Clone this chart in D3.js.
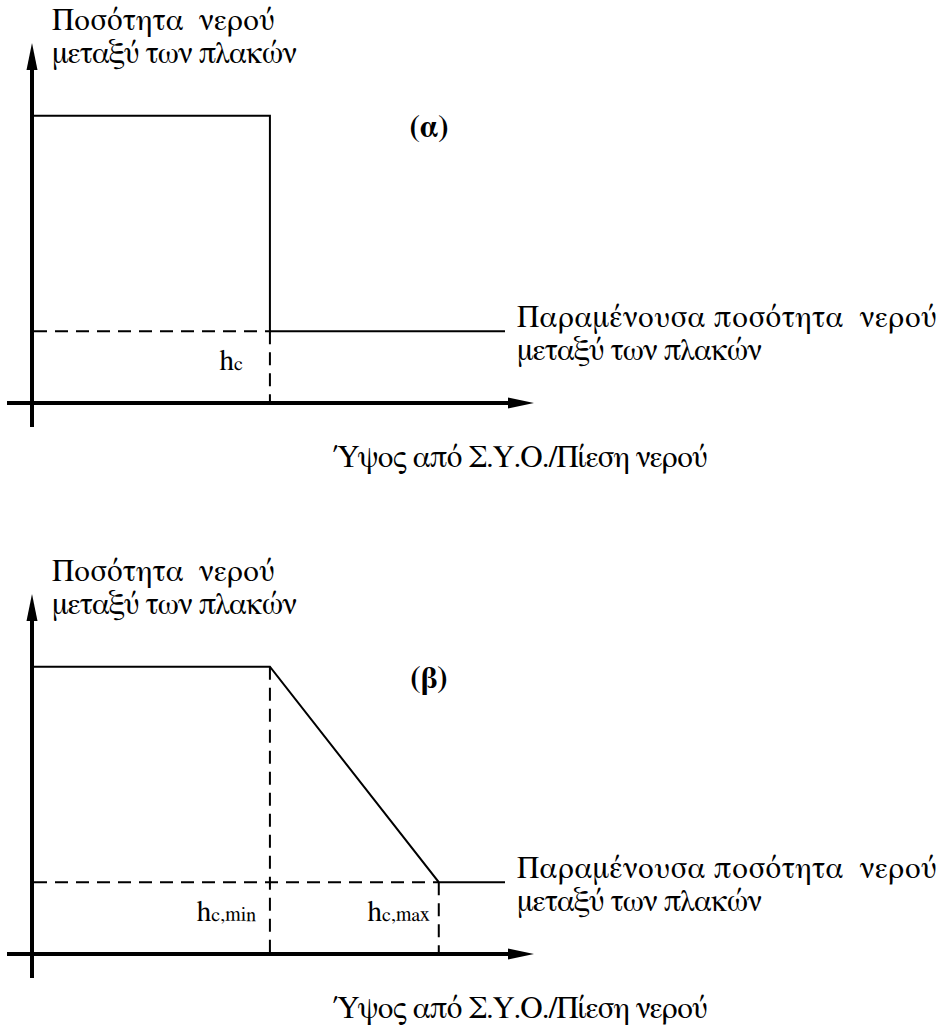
<!DOCTYPE html>
<html>
<head>
<meta charset="utf-8">
<script src="https://cdn.jsdelivr.net/npm/d3@7"></script>
<style>
  html, body { margin: 0; padding: 0; background: #fff; }
</style>
</head>
<body>
<svg id="chart" width="941" height="1027"></svg>
<script>
// Panel captions
const panelLabels = ["(α)", "(β)"];

// Water retained between plates vs. height above water table / water pressure (normalised)
// Panel (α): sharp drop at h_c
const heightA = [0, 0.503, 0.503, 1.0];
const waterA  = [1, 1, 0.25, 0.25];
// Panel (β): linear drop between h_c,min and h_c,max
const heightB = [0, 0.503, 0.86, 1.0];
const waterB  = [1, 1, 0.25, 0.25];

// Critical heights marked with dashed guides, and their labels
const criticalA = [0.503];
const criticalLabelsA = [["h", "c"]];
const criticalB = [0.503, 0.86];
const criticalLabelsB = [["h", "c,min"], ["h", "c,max"]];

const residualLevel = 0.25;

const yTitle = ["Ποσότητα  νερού", "μεταξύ των πλακών"];
const residualTitle = ["Παραμένουσα ποσότητα  νερού", "μεταξύ των πλακών"];
const xTitle = "Ύψος από Σ.Υ.Ο./Πίεση νερού";

const svg = d3.select("#chart");
const serif = "FreeSerif, 'Liberation Serif', 'Times New Roman', serif";
const fontSize = 31;

const x = d3.scaleLinear().domain([0, 1]).range([32, 505]);

function txt(g) {
  return g.append("text")
    .attr("font-family", serif)
    .attr("fill", "#000")
    .attr("xml:space", "preserve")
    .style("white-space", "pre");
}

// stretch a title line to a set width by spacing the glyphs
function fit(t, width) {
  return t.attr("textLength", width).attr("lengthAdjust", "spacing");
}

function drawPanel(offsetY, heights, water, crit, critLabels, labelGap, caption) {
  const g = svg.append("g").attr("transform", `translate(0,${offsetY})`);
  const y = d3.scaleLinear().domain([0, 1]).range([403, 115.7]);

  // axes
  g.append("line")
    .attr("x1", x(0)).attr("x2", x(0))
    .attr("y1", y(0) + 24).attr("y2", 68)
    .attr("stroke", "#000").attr("stroke-width", 4);
  g.append("path")
    .attr("d", `M${x(0)},43 L${x(0) - 5.5},70 L${x(0) + 5.5},70 Z`)
    .attr("fill", "#000");
  g.append("line")
    .attr("x1", x(0) - 25).attr("x2", 510)
    .attr("y1", y(0)).attr("y2", y(0))
    .attr("stroke", "#000").attr("stroke-width", 4);
  g.append("path")
    .attr("d", `M534,${y(0)} L508,${y(0) - 5.5} L508,${y(0) + 5.5} Z`)
    .attr("fill", "#000");

  // dashed residual level from the axis to the last break point
  const lastCrit = crit[crit.length - 1];
  g.append("line")
    .attr("x1", x(0) + 2).attr("x2", x(lastCrit))
    .attr("y1", y(residualLevel)).attr("y2", y(residualLevel))
    .attr("stroke", "#000").attr("stroke-width", 2)
    .attr("stroke-dasharray", "13,8");

  // dashed verticals at the critical heights
  crit.forEach((c, i) => {
    const top = (i === 0 && crit.length > 1) ? y(1) : y(residualLevel);
    g.append("line")
      .attr("x1", x(c)).attr("x2", x(c))
      .attr("y1", top).attr("y2", y(0) - 2)
      .attr("stroke", "#000").attr("stroke-width", 2)
      .attr("stroke-dasharray", "13,8");
    const t = txt(g)
      .attr("x", x(c) - labelGap[i]).attr("y", y(0) - 33)
      .attr("text-anchor", "end")
      .attr("font-size", 29);
    t.append("tspan").text(critLabels[i][0]);
    t.append("tspan").attr("font-size", 20).text(critLabels[i][1]);
  });

  // curve
  const line = d3.line().x(d => x(d[0])).y(d => y(d[1]));
  g.append("path")
    .datum(heights.map((h, i) => [h, water[i]]))
    .attr("d", line)
    .attr("fill", "none").attr("stroke", "#000").attr("stroke-width", 2)
    .attr("stroke-linejoin", "miter");

  // caption
  txt(g)
    .attr("x", 429).attr("y", 137)
    .attr("text-anchor", "middle")
    .attr("font-size", 31).attr("font-weight", "bold")
    .text(caption);

  // y-axis title
  const yTitleW = [223, 245];
  yTitle.forEach((s, i) => {
    fit(txt(g).attr("x", 52).attr("y", 30 + i * 33)
      .attr("font-size", fontSize).text(s), yTitleW[i]);
  });

  // residual level title
  const resW = [420, 245];
  residualTitle.forEach((s, i) => {
    fit(txt(g).attr("x", 517).attr("y", 327 + i * 33)
      .attr("font-size", fontSize).text(s), resW[i]);
  });

  // x-axis title
  fit(txt(g).attr("x", 333).attr("y", 467)
    .attr("font-size", fontSize).text(xTitle), 375);
}

drawPanel(0, heightA, waterA, criticalA, criticalLabelsA, [27], panelLabels[0]);
drawPanel(551, heightB, waterB, criticalB, criticalLabelsB, [14, 9], panelLabels[1]);
</script>
</body>
</html>
